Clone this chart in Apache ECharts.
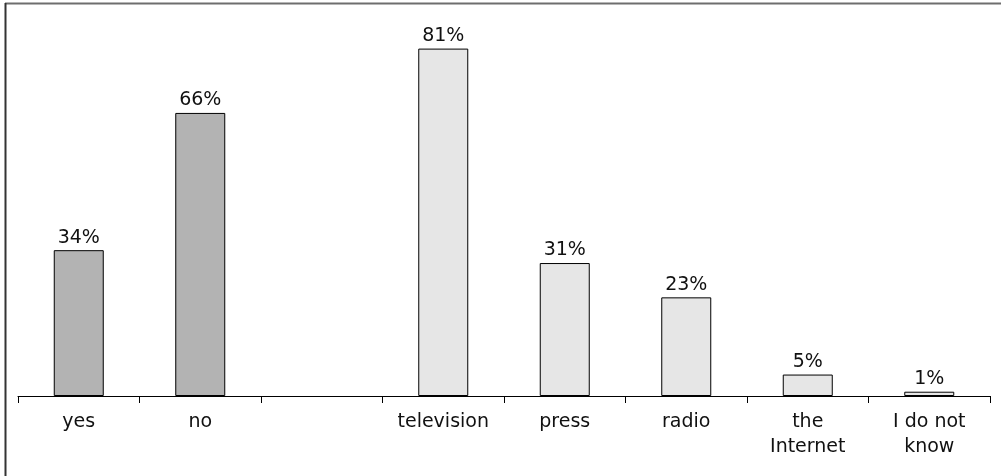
<!DOCTYPE html>
<html>
<head>
<meta charset="utf-8">
<script src="https://cdn.jsdelivr.net/npm/echarts@6/dist/echarts.min.js"></script>
<style>
  html, body { margin: 0; padding: 0; background: #fff; }
  #chart { width: 1001px; height: 476px; }
</style>
</head>
<body>
<div id="chart"></div>
<script>
// Categories along the x axis (third slot is an empty spacer)
const categories = ['yes', 'no', '', 'television', 'press', 'radio', 'the\nInternet', 'I do not\nknow'];
// Answers to the yes/no question (%)
const answerValues = [34, 66, null, null, null, null, null, null];
// Sources of information (%)
const sourceValues = [null, null, null, 81, 31, 23, 5, 1];

const FONT = '"DejaVu Sans", sans-serif';

const chart = echarts.init(document.getElementById('chart'), null, { renderer: 'canvas' });

const labelCfg = {
  show: true,
  position: 'top',
  distance: 3,
  color: '#111',
  fontFamily: FONT,
  fontSize: 19,
  formatter: p => p.value + '%'
};

chart.setOption({
  animation: false,
  backgroundColor: '#fff',
  grid: { left: 18, right: 11, top: 10, bottom: 80 },
  xAxis: {
    type: 'category',
    data: categories,
    axisLine: { lineStyle: { color: '#000', width: 1 } },
    axisTick: { show: true, length: 7, lineStyle: { color: '#000' } },
    axisLabel: {
      color: '#111',
      fontFamily: FONT,
      fontSize: 19,
      lineHeight: 25,
      margin: 14,
      interval: 0
    }
  },
  yAxis: {
    type: 'value',
    min: 0,
    max: 90,
    show: false,
    splitLine: { show: false }
  },
  series: [
    {
      type: 'bar',
      data: answerValues,
      barWidth: 50,
      barGap: '-100%',
      itemStyle: { color: '#b3b3b3', borderColor: '#000', borderWidth: 1 },
      label: labelCfg
    },
    {
      type: 'bar',
      data: sourceValues,
      barWidth: 50,
      barGap: '-100%',
      itemStyle: { color: '#e6e6e6', borderColor: '#000', borderWidth: 1 },
      label: labelCfg
    }
  ],
  graphic: [
    {
      type: 'line',
      shape: { x1: 5, y1: 3.5, x2: 1001, y2: 3.5 },
      style: { stroke: '#6e6e6e', lineWidth: 2 }
    },
    {
      type: 'line',
      shape: { x1: 5.5, y1: 3, x2: 5.5, y2: 476 },
      style: { stroke: '#333', lineWidth: 2 }
    }
  ]
});
</script>
</body>
</html>
